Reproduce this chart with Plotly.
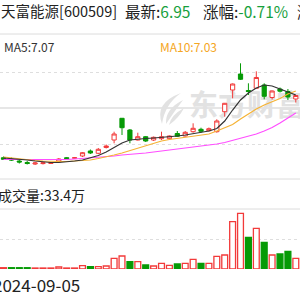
import plotly.graph_objects as go

# ---------------- data ----------------
start_date = "2024-09-05"
title_name = "天富能源[600509]"
latest = "6.95"
change = "-0.71%"
ma5_label = "7.07"
ma10_label = "7.03"
vol_label = "33.4万"

idx = list(range(38))
opens = [4.943, 4.90, 4.833, 4.783, 4.733, 4.747, 4.75, 4.81, 4.943, 4.923,
         5.00, 5.167, 5.09, 5.283, 5.533, 6.257, 5.867, 5.533, 5.643, 5.533,
         5.577, 5.577, 5.75, 5.667, 5.81, 5.89, 5.843, 5.81, 6.477, 7.20,
         7.733, 7.183, 7.257, 7.367, 6.95, 7.233, 7.15, 6.90]
highs = [4.983, 4.95, 4.883, 4.833, 4.80, 4.783, 4.80, 4.933, 4.967, 4.967,
         5.133, 5.217, 5.267, 5.383, 5.81, 6.267, 5.90, 5.777, 5.667, 5.65,
         5.81, 5.683, 5.833, 5.833, 6.09, 5.943, 5.95, 6.223, 6.767, 7.417,
         8.09, 7.423, 7.823, 7.423, 7.183, 7.283, 7.233, 7.033]
lows = [4.867, 4.833, 4.75, 4.717, 4.70, 4.717, 4.733, 4.783, 4.883, 4.90,
        4.967, 5.067, 5.067, 5.25, 5.423, 5.70, 5.423, 5.517, 5.467, 5.50,
        5.533, 5.567, 5.633, 5.65, 5.777, 5.777, 5.817, 5.777, 6.31, 6.923,
        7.533, 7.033, 7.25, 6.89, 6.883, 7.117, 6.867, 6.783]
closes = [4.89, 4.867, 4.80, 4.75, 4.767, 4.773, 4.78, 4.90, 4.91, 4.943,
          5.11, 5.10, 5.223, 5.333, 5.733, 5.943, 5.533, 5.643, 5.50, 5.623,
          5.643, 5.667, 5.657, 5.79, 5.923, 5.823, 5.91, 6.167, 6.757, 7.40,
          7.557, 7.15, 7.617, 6.99, 7.167, 7.16, 6.967, 7.017]
ma5 = [4.933, 4.917, 4.90, 4.867, 4.833, 4.80, 4.783, 4.783, 4.80, 4.833,
       4.867, 4.933, 5.017, 5.133, 5.283, 5.433, 5.533, 5.567, 5.583, 5.60,
       5.617, 5.633, 5.667, 5.70, 5.75, 5.80, 5.833, 5.917, 6.167, 6.533,
       6.867, 7.10, 7.267, 7.367, 7.333, 7.233, 7.133, 7.033]
ma10 = [4.967, 4.933, 4.917, 4.883, 4.85, 4.833, 4.817, 4.817, 4.817, 4.833,
        4.85, 4.867, 4.917, 4.967, 5.033, 5.10, 5.183, 5.267, 5.35, 5.433,
        5.50, 5.55, 5.583, 5.617, 5.65, 5.683, 5.733, 5.833, 5.933, 6.05,
        6.233, 6.40, 6.567, 6.70, 6.80, 6.917, 7.067, 7.167]
ma20 = [4.883, 4.883, 4.867, 4.867, 4.867, 4.867, 4.867, 4.867, 4.883, 4.90,
        4.917, 4.933, 4.967, 4.983, 5.00, 5.033, 5.05, 5.067, 5.10, 5.133,
        5.167, 5.20, 5.233, 5.267, 5.283, 5.317, 5.35, 5.40, 5.45, 5.517,
        5.583, 5.667, 5.733, 5.833, 5.95, 6.10, 6.267, 6.433]
volume = [4.3, 4.3, 4.3, 4.3, 3.3, 3.3, 3.3, 6.7, 3.3, 3.3,
          11, 7.7, 7.7, 10, 35.7, 43.3, 24.3, 24.3, 13.3, 10,
          19, 12.3, 16.7, 19, 32.3, 19, 19, 42.3, 46.7, 157.7,
          185.7, 105.7, 135.7, 89, 46.7, 50, 59, 35.7]

# ---------------- style ----------------
RED = "#f23a3a"
GREEN = "#069a06"
TXT_GREEN = "#16a03c"
GRID = "#dedede"
WM = "#e2e2e2"
FONT = "Noto Sans CJK SC"

prev = [closes[0]] + closes[:-1]
up = [c >= p for c, p in zip(closes, prev)]
vol_fill = ["white" if u else GREEN for u in up]
vol_line = [RED if u else GREEN for u in up]

fig = go.Figure()
fig.add_trace(go.Candlestick(
    x=idx, open=opens, high=highs, low=lows, close=closes,
    increasing=dict(line=dict(color=RED, width=1), fillcolor="white"),
    decreasing=dict(line=dict(color=GREEN, width=1), fillcolor=GREEN),
    whiskerwidth=0, showlegend=False, hoverinfo="skip", yaxis="y"))
fig.add_trace(go.Scatter(x=idx, y=ma20, mode="lines", line=dict(color="#ff4dff", width=1.2),
                         showlegend=False, hoverinfo="skip", yaxis="y"))
fig.add_trace(go.Scatter(x=idx, y=ma10, mode="lines", line=dict(color="#f5b335", width=1.2),
                         showlegend=False, hoverinfo="skip", yaxis="y"))
fig.add_trace(go.Scatter(x=idx, y=ma5, mode="lines", line=dict(color="#333333", width=1.2),
                         showlegend=False, hoverinfo="skip", yaxis="y"))
fig.add_trace(go.Bar(x=idx, y=volume, width=0.74,
                     marker=dict(color=vol_fill, line=dict(color=vol_line, width=1.3)),
                     showlegend=False, hoverinfo="skip", yaxis="y2"))

H = 300.0
def px_x(p):
    return p / H
def py(p):
    return 1 - p / H

axis_common = dict(showticklabels=False, showline=False, zeroline=False, ticks="",
                   gridcolor=GRID, griddash="3px,3px", gridwidth=1)

# watermark logo (leaf-like mark), paper coordinates
def leaf(x0, y0, cx, cy, x1, y1, cx2, cy2):
    return ("M {:.4f},{:.4f} Q {:.4f},{:.4f} {:.4f},{:.4f} Q {:.4f},{:.4f} {:.4f},{:.4f} Z"
            .format(px_x(x0), py(y0), px_x(cx), py(cy), px_x(x1), py(y1),
                    px_x(cx2), py(cy2), px_x(x0), py(y0)))

logo_paths = [
    leaf(162, 124, 154, 103, 181, 93, 165, 104),
    leaf(166, 124, 165, 109, 183, 100, 174, 112),
    leaf(169, 125, 171, 115, 184, 108, 179, 118),
]

shapes = [
    dict(type="line", xref="paper", yref="paper", x0=0, x1=1, y0=py(34), y1=py(34),
         line=dict(color="#dcdcdc", width=1)),
    dict(type="line", xref="paper", yref="y", x0=0, x1=1, y0=6.6, y1=6.6,
         line=dict(color="#e6e6e6", width=2), layer="below"),
    dict(type="line", xref="paper", yref="paper", x0=0, x1=1, y0=py(179), y1=py(179),
         line=dict(color="#dcdcdc", width=1)),
    dict(type="line", xref="paper", yref="paper", x0=0, x1=1, y0=py(209), y1=py(209),
         line=dict(color="#dcdcdc", width=1)),
    dict(type="rect", xref="paper", yref="paper", x0=px_x(186), x1=px_x(330),
         y0=py(124), y1=py(92), line=dict(width=0), layer="below",
         label=dict(text="东方财富", textposition="middle left", padding=0,
                    font=dict(size=29, color=WM, family=FONT, weight="bold"))),
]
for p in logo_paths:
    shapes.append(dict(type="path", xref="paper", yref="paper", path=p,
                       fillcolor=WM, line=dict(width=0), layer="below"))

def ann(text, x, y, size, color="#222222"):
    return dict(xref="paper", yref="paper", x=px_x(x), y=py(y), xanchor="left",
                yanchor="middle", showarrow=False, text=text,
                font=dict(size=size, color=color, family=FONT))

g = "<span style='color:" + TXT_GREEN + "'>{}</span>"

fig.update_layout(
    width=300, height=300, margin=dict(l=0, r=0, t=0, b=0),
    paper_bgcolor="white", plot_bgcolor="white",
    boxgap=0.24,
    xaxis=dict(range=[-0.443, 37.53], visible=False, rangeslider=dict(visible=False),
               fixedrange=True),
    yaxis=dict(domain=[py(170), py(60)], range=[4.5333, 8.2], tickvals=[5.4, 7.8],
               **axis_common),
    yaxis2=dict(domain=[py(269), py(209)], range=[0, 200], tickvals=[100],
                **axis_common),
    shapes=shapes,
    annotations=[
        ann(title_name, -1, 11, 14.5),
        ann("最新:" + g.format(latest), 123, 11, 15.5),
        ann("涨幅:" + g.format(change), 201, 11, 15.5),
        ann("涨", 295, 11, 15.5),
        ann("MA5:" + ma5_label, 2, 46.5, 12, "#333333"),
        ann("MA10:" + ma10_label, 158, 46.5, 12, "#f5a623"),
        ann("成交量:" + vol_label, -4, 195, 14),
        ann(start_date, -9, 284, 17),
    ],
)

fig.write_html("out.html")
